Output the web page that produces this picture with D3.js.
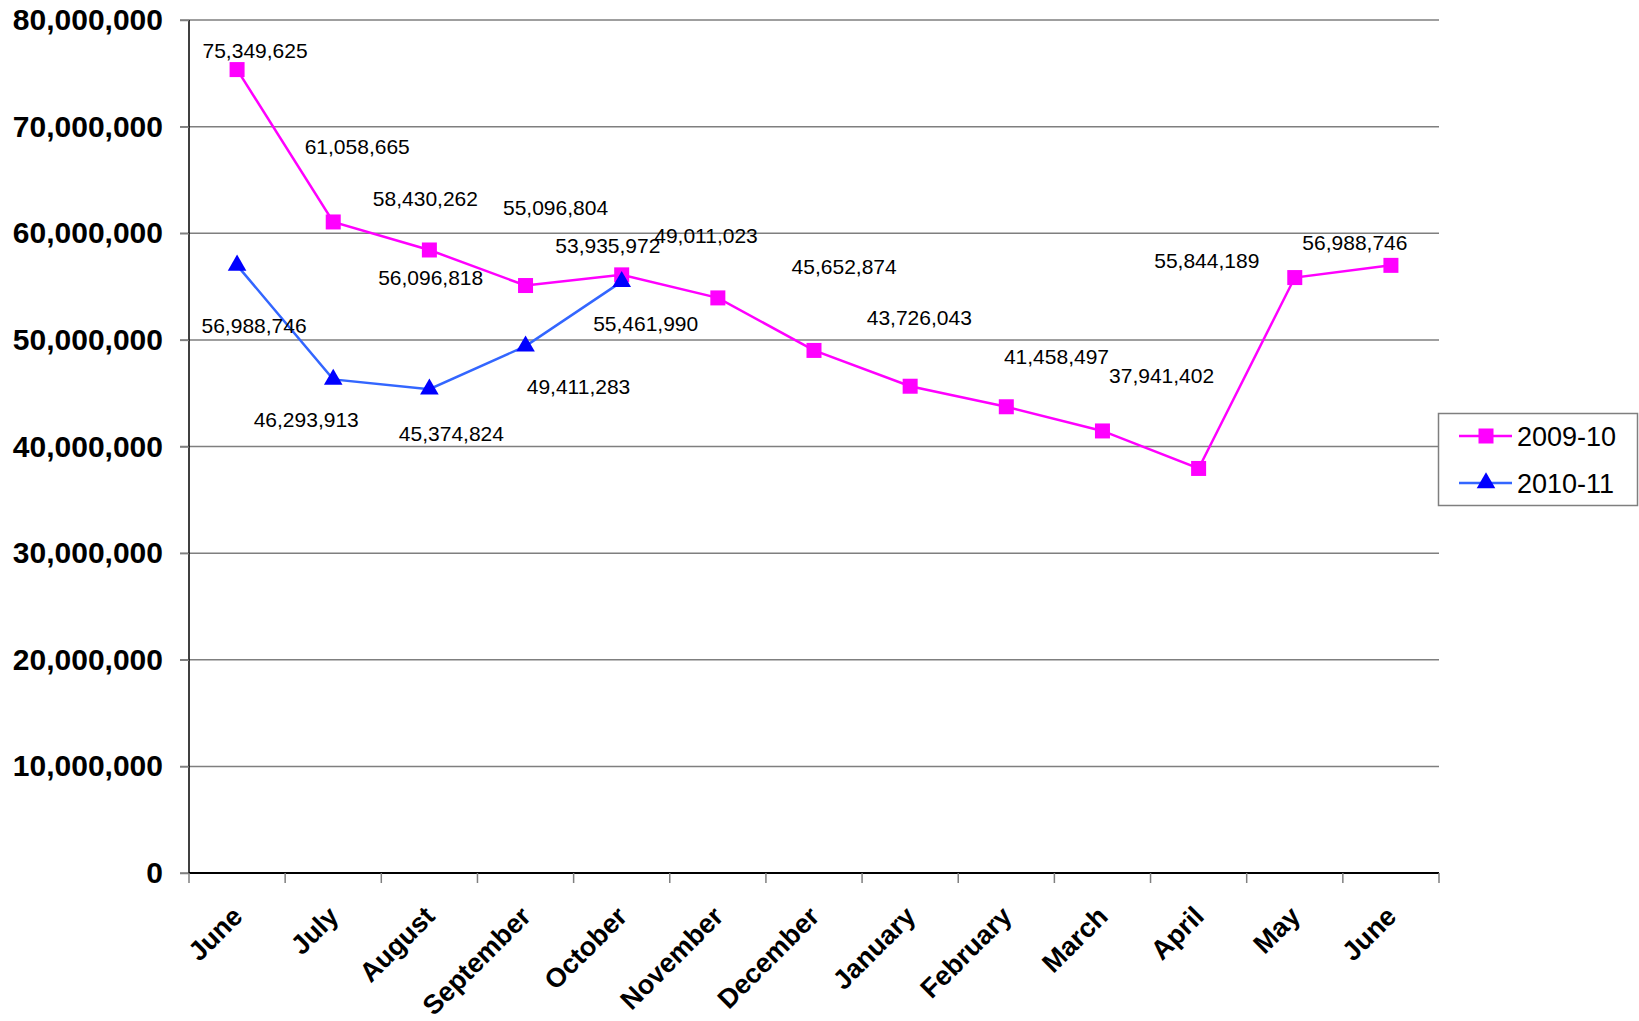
<!DOCTYPE html>
<html><head><meta charset="utf-8">
<script src="https://cdn.jsdelivr.net/npm/d3@7"></script>
<style>body{margin:0;background:#fff;} text{font-family:"Liberation Sans",Arial,sans-serif;}</style>
</head><body><svg id="c" width="1639" height="1021"></svg>
<script>
const months = ["June","July","August","September","October","November","December","January","February","March","April","May","June"];
const series2009 = [75349625, 61058665, 58430262, 55096804, 56096818, 53935972, 49011023, 45652874, 43726043, 41458497, 37941402, 55844189, 56988746];
const series2010 = [56988746, 46293913, 45374824, 49411283, 55461990];
const seriesNames = ["2009-10", "2010-11"];
const yTicks = [0, 10000000, 20000000, 30000000, 40000000, 50000000, 60000000, 70000000, 80000000];
// label placement offsets (px, relative to the point) as in the original chart
const labelOffset2009 = [[18,-19],[24,-75],[-4,-51],[30,-78],[-191,3],[-110,-52],[-108,-115],[-66,-120],[-87,-89],[-46,-74],[-37,-93],[-88,-17],[-36,-23]];
const labelOffset2010 = [[17,60],[-27,40],[22,44],[53,40],[24,42]];

const svg = d3.select("#c");
const L = 189, R = 1439, T = 20, B = 873;
const x = d3.scaleBand().domain(d3.range(months.length)).range([L, R]);
const cx = i => x(i) + x.bandwidth() / 2;
const y = d3.scaleLinear().domain([0, 80000000]).range([B, T]);
const fmt = d3.format(",");

// gridlines
svg.append("g").selectAll("line").data(yTicks).join("line")
  .attr("x1", L - 9).attr("x2", R).attr("y1", d => y(d)).attr("y2", d => y(d))
  .attr("stroke", "#7f7f7f").attr("stroke-width", 1.5);

// y axis
const ya = svg.append("g").attr("transform", `translate(${L},0)`)
  .call(d3.axisLeft(y).tickValues(yTicks).tickFormat(fmt).tickSize(9).tickPadding(17));
ya.select(".domain").attr("stroke", "#000").attr("stroke-width", 1.5).attr("d", `M0,${T}V${B}`);
ya.selectAll(".tick line").attr("stroke", "#7f7f7f").attr("stroke-width", 1.5);
ya.selectAll(".tick text").attr("font-family", "Liberation Sans, Arial, sans-serif").attr("font-size", 30).attr("font-weight", "bold").attr("fill", "#000");

// x axis
const xa = svg.append("g").attr("transform", `translate(0,${B})`);
xa.append("line").attr("x1", L).attr("x2", R).attr("stroke", "#000").attr("stroke-width", 2);
xa.selectAll("line.tk").data(d3.range(months.length + 1)).join("line").attr("class", "tk")
  .attr("x1", i => L + i * x.bandwidth()).attr("x2", i => L + i * x.bandwidth())
  .attr("y1", 0).attr("y2", 10).attr("stroke", "#7f7f7f").attr("stroke-width", 1.5);
xa.selectAll("text").data(months).join("text")
  .attr("transform", (d, i) => `translate(${cx(i) + 7},${45}) rotate(-45)`)
  .attr("text-anchor", "end").attr("font-size", 27).attr("font-weight", "bold").text(d => d);

// lines
const line = d3.line().x((d, i) => cx(i)).y(d => y(d));
svg.append("path").datum(series2009).attr("d", line).attr("fill", "none").attr("stroke", "#ff00ff").attr("stroke-width", 2.5);
svg.append("path").datum(series2010).attr("d", line).attr("fill", "none").attr("stroke", "#3366ff").attr("stroke-width", 2.5);

// markers
const sq = 15;
svg.append("g").selectAll("rect").data(series2009).join("rect")
  .attr("x", (d, i) => cx(i) - sq / 2).attr("y", d => y(d) - sq / 2).attr("width", sq).attr("height", sq).attr("fill", "#ff00ff");
const tri = d3.symbol().type(d3.symbolTriangle).size(150);
svg.append("g").selectAll("path").data(series2010).join("path")
  .attr("transform", (d, i) => `translate(${cx(i)},${y(d)})`).attr("d", tri()).attr("fill", "#0000ff");

// data labels
svg.append("g").selectAll("text").data(series2009).join("text")
  .attr("x", (d, i) => cx(i) + labelOffset2009[i][0]).attr("y", (d, i) => y(d) + labelOffset2009[i][1])
  .attr("dy", "0.35em").attr("text-anchor", "middle").attr("font-size", 21).attr("fill", "#000").text(d => fmt(d));
svg.append("g").selectAll("text").data(series2010).join("text")
  .attr("x", (d, i) => cx(i) + labelOffset2010[i][0]).attr("y", (d, i) => y(d) + labelOffset2010[i][1])
  .attr("dy", "0.35em").attr("text-anchor", "middle").attr("font-size", 21).attr("fill", "#000").text(d => fmt(d));

// legend
const lg = svg.append("g");
lg.append("rect").attr("x", 1438.5).attr("y", 413.5).attr("width", 199).attr("height", 92).attr("fill", "#fff").attr("stroke", "#7f7f7f").attr("stroke-width", 1.5);
const rows = [{name: seriesNames[0], c: "#ff00ff", m: "sq", yy: 436}, {name: seriesNames[1], c: "#3366ff", m: "tri", yy: 483}];
rows.forEach(r => {
  lg.append("line").attr("x1", 1459).attr("x2", 1512).attr("y1", r.yy).attr("y2", r.yy).attr("stroke", r.c).attr("stroke-width", 2.5);
  if (r.m === "sq") lg.append("rect").attr("x", 1486 - 7.5).attr("y", r.yy - 7.5).attr("width", 15).attr("height", 15).attr("fill", "#ff00ff");
  else lg.append("path").attr("transform", `translate(1486,${r.yy})`).attr("d", tri()).attr("fill", "#0000ff");
  lg.append("text").attr("x", 1517).attr("y", r.yy).attr("dy", "0.36em").attr("font-size", 27).attr("fill", "#000").text(r.name);
});
</script></body></html>
